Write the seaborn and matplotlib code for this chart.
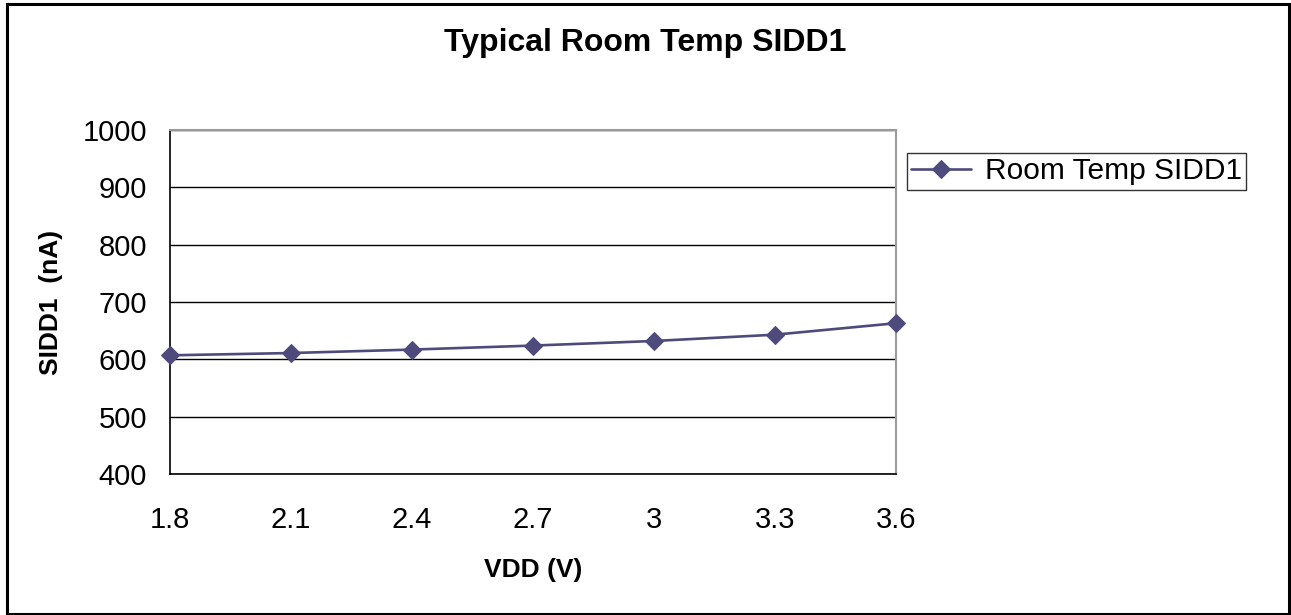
import matplotlib
matplotlib.use("Agg")
import matplotlib.pyplot as plt
from matplotlib.patches import Rectangle
import seaborn as sns
import pandas as pd

# Supply voltage sweep and measured idle current
vdd_v = [1.8, 2.1, 2.4, 2.7, 3.0, 3.3, 3.6]
sidd1_na = [607, 611, 617, 624, 632, 643, 663]
x_tick_labels = ["1.8", "2.1", "2.4", "2.7", "3", "3.3", "3.6"]
y_ticks = [400, 500, 600, 700, 800, 900, 1000]
series_name = "Room Temp SIDD1"

df = pd.DataFrame({"VDD": vdd_v, "SIDD1": sidd1_na})

sns.set_style("white")
plt.rcParams["font.family"] = ["Liberation Sans", "DejaVu Sans"]
plt.rcParams["text.color"] = "black"
plt.rcParams["axes.labelcolor"] = "black"
plt.rcParams["xtick.color"] = "black"
plt.rcParams["ytick.color"] = "black"

W, H = 1291, 615
fig = plt.figure(figsize=(W / 100, H / 100), dpi=100)
ax = fig.add_axes([170 / W, 1 - 474 / H, (896 - 170) / W, (474 - 130) / H])

line_color = "#4E4A7C"
sns.lineplot(data=df, x="VDD", y="SIDD1", ax=ax, color=line_color,
             marker="D", markersize=9, markeredgecolor=line_color,
             linewidth=1.9, label=series_name, zorder=5, clip_on=False)

ax.set_xlim(1.8, 3.6)
ax.set_ylim(400, 1000)
ax.set_xticks(vdd_v)
ax.set_xticklabels(x_tick_labels)
ax.set_yticks(y_ticks)
ax.tick_params(axis="both", which="major", labelsize=21, direction="out",
               length=7.5, width=1, color="black", labelcolor="black")
ax.tick_params(axis="x", pad=15.5)
ax.tick_params(axis="y", pad=9)

# horizontal gridlines
ax.yaxis.grid(True, color="black", linewidth=1)
ax.xaxis.grid(False)
ax.set_axisbelow(True)

for side in ["left", "bottom"]:
    ax.spines[side].set_color("black")
    ax.spines[side].set_linewidth(1.2)
for side in ["top", "right"]:
    ax.spines[side].set_color("#9A9A9A")
    ax.spines[side].set_linewidth(1.5)

ax.set_xlabel("VDD (V)", fontsize=19, fontweight="bold", labelpad=17.5)
ax.set_ylabel("SIDD1  (nA)", fontsize=19, fontweight="bold", labelpad=14)

fig.text(0.5, 1 - 43 / H, "Typical Room Temp SIDD1", ha="center", va="center",
         fontsize=23, fontweight="bold")

ax.get_legend().remove()
handles, labels = ax.get_legend_handles_labels()
leg = fig.legend(handles, labels, loc="upper left",
                 bbox_to_anchor=(907 / W, 1 - 153 / H), fontsize=21.5,
                 frameon=True, fancybox=False, shadow=False,
                 borderpad=0.15, handlelength=2.0, handletextpad=0.45,
                 borderaxespad=0)
leg.get_frame().set_edgecolor("black")
leg.get_frame().set_linewidth(1.0)

# outer chart border
fig.patches.append(Rectangle((7 / W, 1 / H), (1289 - 7) / W, (611 - 1) / H,
                             transform=fig.transFigure, fill=False,
                             edgecolor="black", linewidth=2.2))

fig.savefig("out.png", dpi=100)
